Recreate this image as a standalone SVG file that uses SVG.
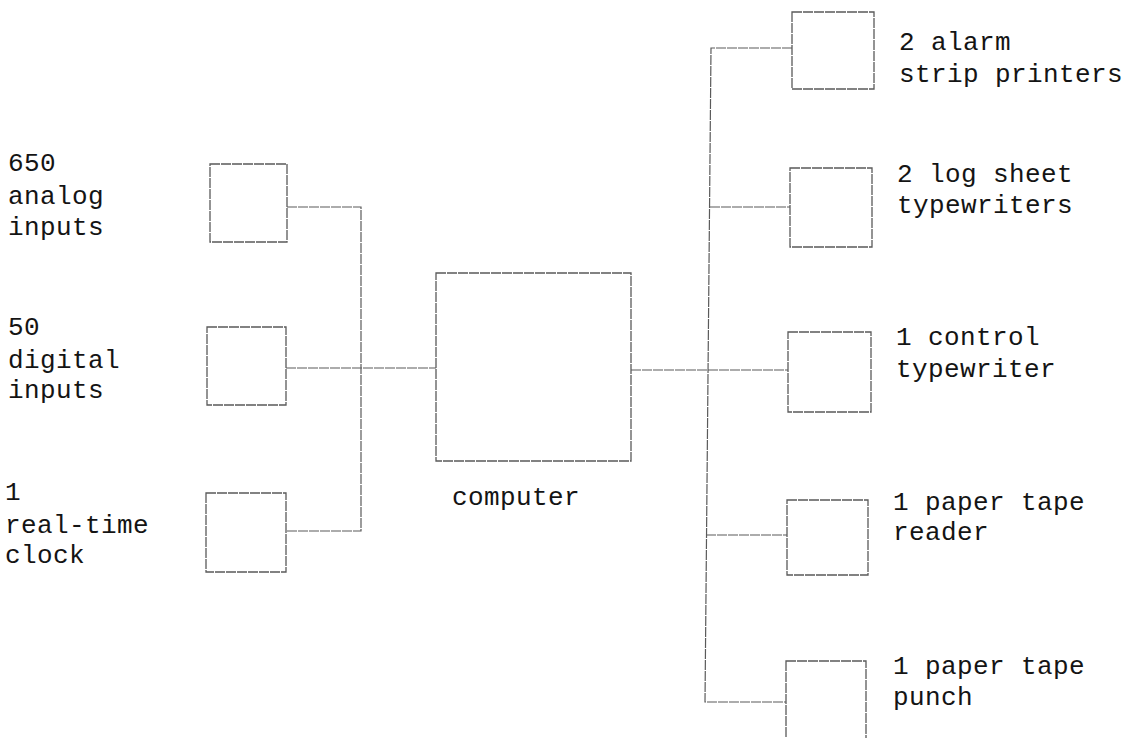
<svg xmlns="http://www.w3.org/2000/svg" width="1132" height="738" viewBox="0 0 1132 738">
<style>
.box{fill:none;stroke:#5a5a5a;stroke-width:1.3;stroke-dasharray:10 1}
.ln{fill:none;stroke:#5a5a5a;stroke-width:1.2;stroke-dasharray:10 1}
text{font-family:"Liberation Mono","Courier New",monospace;font-size:26px;letter-spacing:0.4px;fill:#141414}
</style>
<rect width="1132" height="738" fill="#fff"/>
<g id="connectors">
<polyline class="ln" points="287,207 361,207 361,531 286,531"/>
<line class="ln" x1="286" y1="368" x2="436" y2="368"/>
<line class="ln" x1="631" y1="370" x2="788" y2="370"/>
<polyline class="ln" points="792,48 711,48 705,702 786,702"/>
<line class="ln" x1="710" y1="207" x2="790" y2="207"/>
<line class="ln" x1="706" y1="535" x2="787" y2="535"/>
</g>
<g id="analog">
<rect class="box" x="210" y="164" width="77" height="78"/>
<text x="8" y="171">650</text>
<text x="8" y="204">analog</text>
<text x="8" y="235">inputs</text>
</g>
<g id="digital">
<rect class="box" x="207" y="327" width="79" height="78"/>
<text x="8" y="335">50</text>
<text x="8" y="368">digital</text>
<text x="8" y="398">inputs</text>
</g>
<g id="clock">
<rect class="box" x="206" y="493" width="80" height="79"/>
<text x="5" y="500">1</text>
<text x="5" y="533">real-time</text>
<text x="5" y="563">clock</text>
</g>
<g id="computer">
<rect class="box" x="436" y="273" width="195" height="188"/>
<text x="452" y="505">computer</text>
</g>
<g id="alarm">
<rect class="box" x="792" y="12" width="82" height="77"/>
<text x="899" y="50">2 alarm</text>
<text x="899" y="82">strip printers</text>
</g>
<g id="logsheet">
<rect class="box" x="790" y="168" width="82" height="79"/>
<text x="897" y="182">2 log sheet</text>
<text x="897" y="213">typewriters</text>
</g>
<g id="control">
<rect class="box" x="788" y="332" width="83" height="80"/>
<text x="896" y="345">1 control</text>
<text x="896" y="377">typewriter</text>
</g>
<g id="reader">
<rect class="box" x="787" y="500" width="81" height="75"/>
<text x="893" y="510">1 paper tape</text>
<text x="893" y="540">reader</text>
</g>
<g id="punch">
<rect class="box" x="786" y="661" width="80" height="90"/>
<text x="893" y="674">1 paper tape</text>
<text x="893" y="705">punch</text>
</g>
</svg>
